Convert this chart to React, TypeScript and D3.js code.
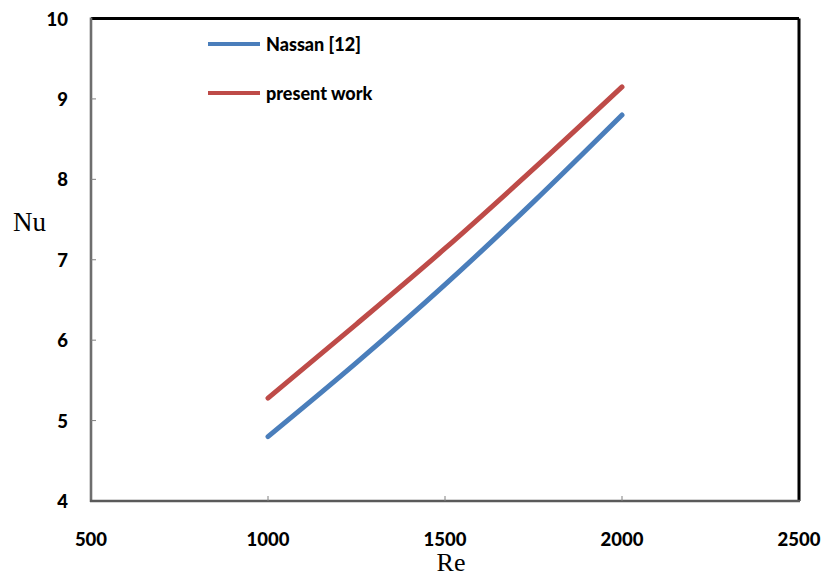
import React from "react";
import * as d3 from "d3";

const reValues = [1000, 1250, 1500, 1750, 2000];
const nassanNu = [4.8, 5.72, 6.69, 7.72, 8.8];
const presentNu = [5.28, 6.2, 7.14, 8.13, 9.15];
const xTicks = [500, 1000, 1500, 2000, 2500];
const yTicks = [4, 5, 6, 7, 8, 9, 10];
const seriesNames = ["Nassan [12]", "present work"];
const seriesColors = ["#4A7EBB", "#BE4B48"];

const W = 823, H = 579;
const L = 91, R = 799, T = 18.5, B = 501;

export default function App() {
  const x = d3.scaleLinear().domain([500, 2500]).range([L, R]);
  const y = d3.scaleLinear().domain([4, 10]).range([B, T]);
  const line = d3
    .line<[number, number]>()
    .x((d) => x(d[0]))
    .y((d) => y(d[1]))
    .curve(d3.curveMonotoneX);
  const series = [nassanNu, presentNu].map((vals) =>
    reValues.map((r, i) => [r, vals[i]] as [number, number])
  );
  const tickFont = "Lato, 'Open Sans', sans-serif";
  return (
    <svg
      width={W}
      height={H}
      style={{ position: "absolute", left: 0, top: 0, background: "#fff" }}
    >
      <line x1={L} y1={T} x2={R} y2={T} stroke="#000" strokeWidth={3} />
      <line x1={R} y1={T} x2={R} y2={B} stroke="#000" strokeWidth={3} />
      <line x1={L} y1={T - 1} x2={L} y2={B + 1} stroke="#6e6e6e" strokeWidth={2.6} />
      <line x1={L - 1} y1={B} x2={R + 1} y2={B} stroke="#5a5a5a" strokeWidth={2.6} />
      {yTicks.map((t) => (
        <g key={"y" + t}>
          {t > 4 && t < 10 && (
            <line x1={L} x2={L + 5} y1={y(t)} y2={y(t)} stroke="#808080" strokeWidth={1} />
          )}
          <text
            x={68}
            y={y(t)}
            textAnchor="end"
            dominantBaseline="central"
            fontFamily={tickFont}
            fontWeight={900}
            fontSize={18.5}
            fill="#000"
          >
            {t}
          </text>
        </g>
      ))}
      {xTicks.map((t) => (
        <g key={"x" + t}>
          {t > 500 && t < 2500 && (
            <line x1={x(t)} x2={x(t)} y1={B} y2={B - 5} stroke="#808080" strokeWidth={1} />
          )}
          <text
            x={x(t)}
            y={539}
            textAnchor="middle"
            dominantBaseline="central"
            fontFamily={tickFont}
            fontWeight={900}
            fontSize={18.5}
            fill="#000"
          >
            {t}
          </text>
        </g>
      ))}
      {series.map((s, i) => (
        <path
          key={"s" + i}
          d={line(s) || ""}
          fill="none"
          stroke={seriesColors[i]}
          strokeWidth={5}
          strokeLinecap="round"
        />
      ))}
      {seriesNames.map((n, i) => (
        <g key={"l" + i}>
          <line
            x1={208}
            x2={260}
            y1={44 + i * 49}
            y2={44 + i * 49}
            stroke={seriesColors[i]}
            strokeWidth={4}
          />
          <text
            x={266}
            y={44 + i * 49}
            dominantBaseline="central"
            fontFamily={tickFont}
            fontWeight={900}
            fontSize={18}
            fill="#000"
          >
            {n}
          </text>
        </g>
      ))}
      <text x={13} y={231} fontFamily="'Liberation Serif', serif" fontSize={27} fill="#000">
        Nu
      </text>
      <text
        x={451}
        y={571}
        textAnchor="middle"
        fontFamily="'Liberation Serif', serif"
        fontSize={26}
        fill="#000"
      >
        Re
      </text>
    </svg>
  );
}
